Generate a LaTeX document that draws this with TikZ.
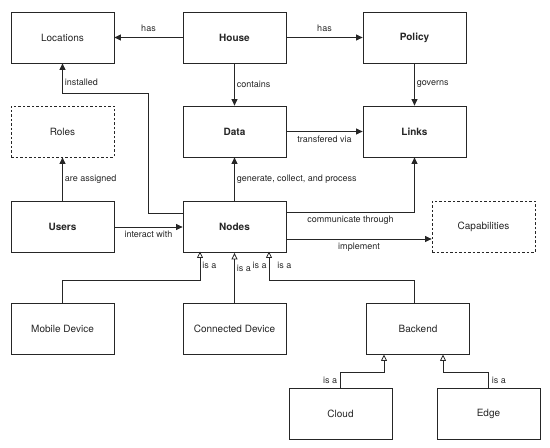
\documentclass[tikz,border=0pt]{standalone}
\usepackage{fontspec}
\setmainfont{TeX Gyre Heros}
\usetikzlibrary{arrows.meta,positioning}
\definecolor{ink}{HTML}{262626}
\tikzset{
  every node/.style={font=\fontsize{10}{12}\selectfont, text=ink},
  box/.style={draw=ink, line width=0.8pt, minimum width=103pt, minimum height=51pt,
              align=center, fill=white},
  hibox/.style={box, font=\fontsize{10}{12}\selectfont\bfseries},
  dashbox/.style={box, dashed, dash pattern=on 2.5pt off 2pt},
  arr/.style={-{Triangle[length=6.5pt, width=6pt]}, line width=0.8pt, draw=ink},
  isa/.style={-{Triangle[open, length=6.5pt, width=6pt]}, line width=0.8pt, draw=ink},
  lbl/.style={font=\fontsize{9}{11}\selectfont, text=ink, inner sep=2pt},
}

\begin{document}
\begin{tikzpicture}[x=1pt, y=1pt]
\useasboundingbox (0,0) rectangle (550,448);

% --- Row 1 ---
\node[box] (loc) at (62.5,410.5) {Locations};
\node[hibox] (house) at (234.5,410.5) {House};
\node[hibox] (policy) at (414.5,410.5) {Policy};

% --- Row 2 ---
\node[dashbox] (roles) at (62.5,316.5) {Roles};
\node[hibox] (data) at (234.5,316.5) {Data};
\node[hibox] (links) at (414.5,316.5) {Links};

% --- Row 3 ---
\node[hibox] (users) at (62.5,221) {Users};
\node[hibox] (nodes) at (234.5,221) {Nodes};
\node[dashbox] (cap) at (483.5,221) {Capabilities};

% --- Row 4: kinds of nodes ---
\node[box] (mobile) at (62.5,119) {Mobile Device};
\node[box] (conn) at (234.5,119) {Connected Device};
\node[box] (backend) at (418,119) {Backend};

% --- Row 5: kinds of backend ---
\node[box] (cloud) at (340.5,34.5) {Cloud};
\node[box] (edge) at (488.5,34.5) {Edge};

% associations
\draw[arr] (house) -- (loc) node[midway, above=3pt, lbl] {has};
\draw[arr] (house) -- (policy) node[midway, above=3pt, lbl] {has};
\draw[arr] (house) -- (data) node[midway, right, lbl] {contains};
\draw[arr] (policy) -- (links) node[midway, right, lbl] {governs};
\draw[arr] (data) -- (links) node[midway, below=2pt, lbl] {transfered via};
\draw[arr] ([yshift=14pt]nodes.west) -- (148,235) -- (148,355) -- (62.5,355)
  -- (loc.south) node[pos=0.35, right, lbl] {installed};
\draw[arr] (users) -- (roles) node[midway, right, lbl] {are assigned};
\draw[arr] (nodes) -- (data) node[midway, right, lbl] {generate, collect, and process};
\draw[arr] ([yshift=15pt]nodes.east) -- (links.south |- 0,236)
  node[midway, below=2pt, lbl] {communicate through} -- (links.south);
\draw[arr] ([yshift=-12pt]nodes.east) -- (cap.west |- 0,209)
  node[midway, below=2pt, lbl] {implement};
\draw[arr] (users) -- (nodes) node[midway, below=2pt, lbl] {interact with};

% inheritance
\draw[isa] (mobile.north) -- (62.5,168) -- (200,168) -- (200,196.5)
  node[midway, right, lbl] {is a};
\draw[isa] (conn) -- (nodes) node[pos=0.7, right, lbl] {is a};
\draw[isa] (backend.north -| links) -- (414.5,168) -- (269,168) -- (269,196.5)
  node[midway, left, lbl] {is a} node[midway, right=6pt, lbl] {is a};
\draw[isa] (cloud.north) node[above left=0pt and 1pt, lbl, yshift=2pt] {is a}
  -- (340.5,76) -- (384,76) -- (384,93.5);
\draw[isa] (edge.north) node[above right=0pt and 1pt, lbl, yshift=2pt] {is a}
  -- (488.5,76) -- (443,76) -- (443,93.5);

\end{tikzpicture}
\end{document}
